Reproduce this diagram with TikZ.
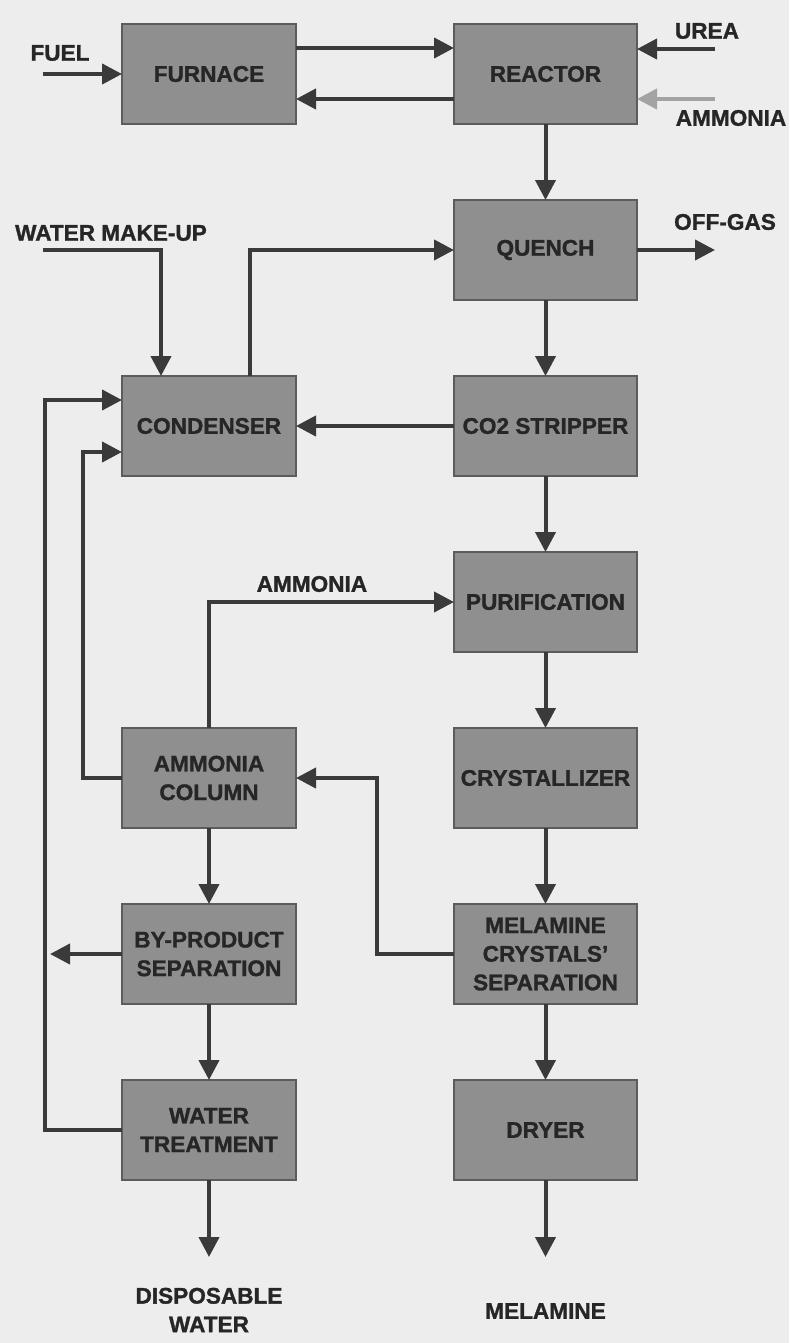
\documentclass[tikz,border=0pt]{standalone}
\usepackage{fontspec}
\setmainfont{Liberation Sans}[BoldFeatures={FakeBold=1.3}]
\usepackage{tikz}
\usetikzlibrary{arrows.meta,positioning,calc}
\usepackage{xcolor}
\definecolor{boxgray}{HTML}{8F8F8F}
\definecolor{boxedge}{HTML}{5C5C5C}
\definecolor{linegray}{HTML}{3A3A3A}
\definecolor{feedgray}{HTML}{A3A3A3}
\definecolor{paper}{HTML}{EDEDED}
\definecolor{inkgray}{HTML}{262626}

\begin{document}
\begin{tikzpicture}[
  node distance=38pt and 79pt,
  unit/.style={draw=boxedge, line width=0.8pt, fill=boxgray, minimum height=50pt, inner sep=2pt, outer sep=0pt, align=center, text=inkgray, font=\bfseries\fontsize{11.3}{14.3}\selectfont},
  lunit/.style={unit, minimum width=87pt},
  runit/.style={unit, minimum width=91.5pt},
  lbl/.style={text=inkgray, align=center, inner sep=0pt, font=\bfseries\fontsize{11.3}{14.3}\selectfont},
  arr/.style={-{Triangle[length=10pt,width=10pt]}, line width=2pt, draw=linegray},
  feed/.style={arr, draw=feedgray},
]
  \fill[paper] (0,0) rectangle (394.5pt,-671.5pt);
  \useasboundingbox (0,0) rectangle (394.5pt,-671.5pt);

  % right column: main melamine line
  \node[lunit] (furnace) at (104.5pt,-37pt) {FURNACE};
  \node[runit, right=of furnace] (reactor) {REACTOR};
  \node[runit, below=of reactor] (quench) {QUENCH};
  \node[runit, below=of quench] (stripper) {CO2 STRIPPER};
  \node[runit, below=of stripper] (purif) {PURIFICATION};
  \node[runit, below=of purif] (cryst) {CRYSTALLIZER};
  \node[runit, below=of cryst] (sep) {MELAMINE\\CRYSTALS'\\SEPARATION};
  \node[runit, below=of sep] (dryer) {DRYER};

  % left column: recovery
  \node[lunit, left=of stripper] (cond) {CONDENSER};
  \node[lunit, left=of cryst] (ammcol) {AMMONIA\\COLUMN};
  \node[lunit, left=of sep] (byprod) {BY-PRODUCT\\SEPARATION};
  \node[lunit, left=of dryer] (water) {WATER\\TREATMENT};

  % free ends
  \coordinate[left=39.5pt of furnace.west] (fuel);
  \coordinate (urea) at ([xshift=39pt,yshift=12.5pt]reactor.east);
  \coordinate (nh3in) at ([xshift=39pt,yshift=-12.5pt]reactor.east);
  \coordinate[right=39pt of quench.east] (offgas);
  \coordinate (makeup) at (fuel |- quench);
  \coordinate (bpout) at ([xshift=-36pt]byprod.west);
  \coordinate[below=38.5pt of water.south] (dispout);
  \coordinate[below=38.5pt of dryer.south] (melout);

  \node[lbl] (fuellbl) at ([xshift=8.5pt,yshift=10.5pt]fuel) {FUEL};
  \node[lbl] (urealbl) at ([xshift=-4pt,yshift=9pt]urea) {UREA};
  \node[lbl] (nh3lbl) at ([xshift=8pt,yshift=-9.5pt]nh3in) {AMMONIA};
  \node[lbl] (offlbl) at ([xshift=5pt,yshift=14pt]offgas) {OFF-GAS};
  \node[lbl] (mulbl) at ([xshift=34pt,yshift=8.5pt]makeup) {WATER MAKE-UP};
  \node[lbl] (displbl) at ([yshift=-26.5pt]dispout) {DISPOSABLE\\WATER};
  \node[lbl] (mellbl) at ([yshift=-27pt]melout) {MELAMINE};

  \draw[arr] (fuel) -- (furnace);
  \draw[arr] ([yshift=13pt]furnace.east) -- ([yshift=13pt]reactor.west);
  \draw[arr] ([yshift=-12.5pt]reactor.west) -- ([yshift=-12.5pt]furnace.east);
  \draw[arr] (urea) -- (urea -| reactor.east);
  \draw[feed] (nh3in) -- (nh3in -| reactor.east);
  \draw[arr] (reactor) -- (quench);
  \draw[arr] (quench) -- (offgas);
  \draw[arr] (quench) -- (stripper);
  \draw[arr] (stripper) -- (cond);
  \draw[arr] (stripper) -- (purif);
  \draw[arr] (purif) -- (cryst);
  \draw[arr] (cryst) -- (sep);
  \draw[arr] (sep) -- (dryer);
  \draw[arr] (dryer) -- (melout);

  \draw[arr] (makeup) -| ([xshift=-24pt]cond.north);
  \draw[arr] ([xshift=20.5pt]cond.north) |- (quench.west);
  \draw[arr] (ammcol.north) |- node[lbl, pos=0.71, above=4pt] (nh3lbl2) {AMMONIA} (purif.west);
  \draw[arr] (ammcol.west) -- ++(-19.5pt,0) |- ([yshift=-13pt]cond.west);
  \draw[arr] (water.west) -- ++(-38.5pt,0) |- ([yshift=13pt]cond.west);
  \draw[arr] (sep.west) -- ++(-38.5pt,0) |- (ammcol.east);
  \draw[arr] (ammcol) -- (byprod);
  \draw[arr] (byprod) -- (water);
  \draw[arr] (byprod.west) -- (bpout);
  \draw[arr] (water) -- (dispout);
\end{tikzpicture}
\end{document}
